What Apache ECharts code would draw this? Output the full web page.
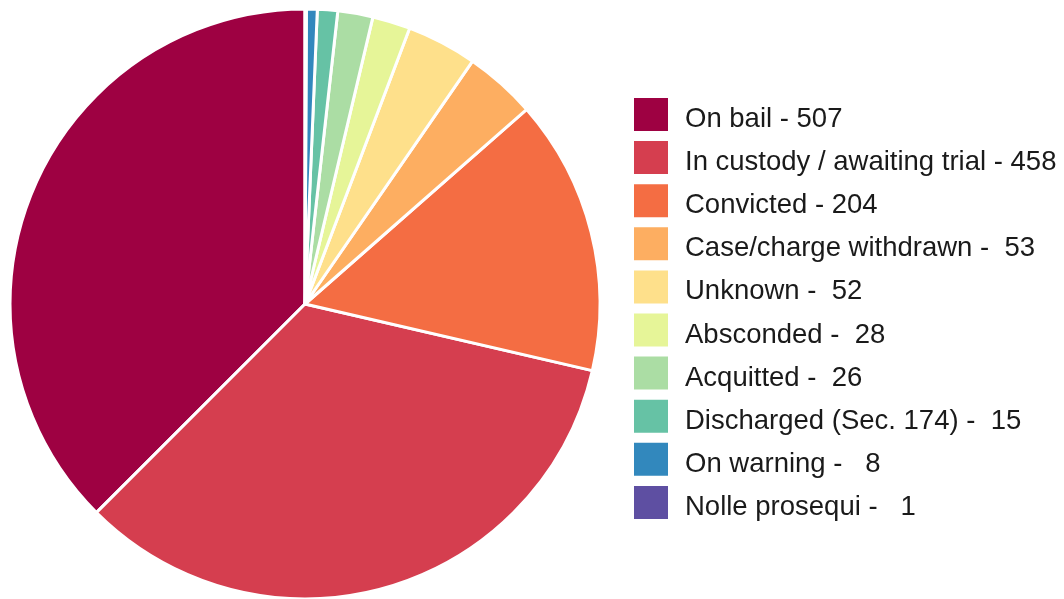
<!DOCTYPE html>
<html>
<head>
<meta charset="utf-8">
<script src="https://cdn.jsdelivr.net/npm/echarts@6/dist/echarts.min.js"></script>
<style>
html,body{margin:0;padding:0;background:#fff;}
#chart{width:1064px;height:599px;}
</style>
</head>
<body>
<div id="chart"></div>
<script>
const categories = ["On bail","In custody / awaiting trial","Convicted","Case/charge withdrawn","Unknown","Absconded","Acquitted","Discharged (Sec. 174)","On warning","Nolle prosequi"];
const values = [507,458,204,53,52,28,26,15,8,1];
const colors = ["#9e0142","#d53e4f","#f46d43","#fdae61","#fee08b","#e6f598","#abdda4","#66c2a5","#3288bd","#5e4fa2"];

const legendText = {};
categories.forEach((c,i)=>{ legendText[c] = c + ' - ' + String(values[i]).padStart(3,' '); });

const chart = echarts.init(document.getElementById('chart'));
chart.setOption({
  animation:false,
  backgroundColor:'#fff',
  color: colors,
  legend:{
    orient:'vertical',
    left:634, top:98,
    padding:0,
    itemWidth:34, itemHeight:33, itemGap:7.6,
    icon:'rect',
    itemStyle:{borderWidth:0},
    textStyle:{
      fontFamily:'Liberation Sans, Arial, sans-serif', fontSize:27.5, color:'#1a1a1a',
      rich:{t:{fontFamily:'Liberation Sans, Arial, sans-serif', fontSize:27.5, color:'#1a1a1a', padding:[10,0,0,12]}}
    },
    formatter: n => '{t|' + legendText[n] + '}',
    data: categories
  },
  series:[{
    type:'pie',
    center:[305,304],
    radius:295,
    startAngle:90,
    clockwise:false,
    label:{show:false},
    labelLine:{show:false},
    itemStyle:{borderColor:'#fff', borderWidth:3},
    emphasis:{disabled:true},
    data: categories.map((c,i)=>({name:c, value:values[i]}))
  }]
});
</script>
</body>
</html>
